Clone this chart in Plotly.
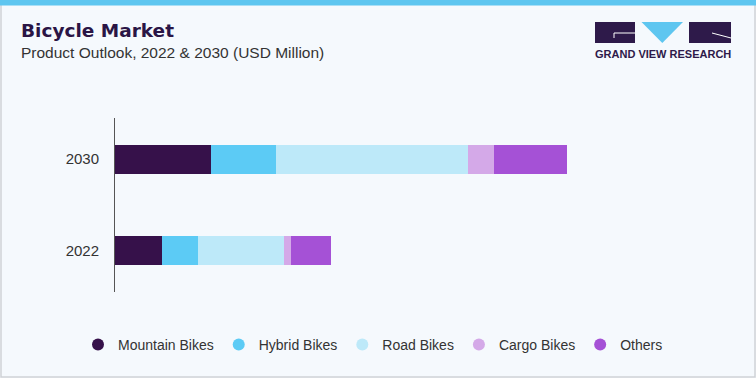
import plotly.graph_objects as go

years = ["2022", "2030"]
segments = ["Mountain Bikes", "Hybrid Bikes", "Road Bikes", "Cargo Bikes", "Others"]
mountain = [13460, 27240]
hybrid = [10080, 18670]
road = [24480, 54560]
cargo = [2160, 7400]
others = [11300, 20690]
series_values = [mountain, hybrid, road, cargo, others]
colors = ["#36114A", "#5CCBF5", "#BDE9F9", "#D4A9E8", "#A551D6"]

fig = go.Figure()
for name, vals, col in zip(segments, series_values, colors):
    fig.add_trace(go.Bar(
        y=years, x=vals, name=name, orientation="h",
        marker=dict(color=col, line=dict(width=0)),
        width=0.32, showlegend=False,
    ))
# circular legend markers
for name, col in zip(segments, colors):
    fig.add_trace(go.Scatter(
        x=[None], y=[None], mode="markers", name=name,
        marker=dict(color=col, size=12, symbol="circle"),
        showlegend=True,
    ))

bg = "#F5F9FD"
fig.update_layout(
    barmode="stack",
    width=756, height=378,
    paper_bgcolor=bg, plot_bgcolor=bg,
    margin=dict(l=115, r=56, t=118, b=86, autoexpand=False),
    font=dict(family="Liberation Sans, Arial, sans-serif", size=14, color="#333333"),
    xaxis=dict(range=[0, 166500], showgrid=False, zeroline=False, showticklabels=False,
               showline=False, fixedrange=True),
    yaxis=dict(range=[-0.45, 1.45], showgrid=False, zeroline=False, showline=True,
               linecolor="#555555", linewidth=1, ticks="", ticklabelstandoff=12,
               tickfont=dict(size=15, color="#333333"), categoryorder="array",
               categoryarray=years, fixedrange=True),
    legend=dict(orientation="h", x=(373 - 115) / 585, xanchor="center", y=-(345 - 292) / 174,
                yanchor="middle", yref="paper", font=dict(size=14, color="#333333"),
                traceorder="normal", itemclick=False, bgcolor="rgba(0,0,0,0)"),
    showlegend=True,
)

def px(xp):
    return (xp - 115) / 585
def py(yp):
    return (292 - yp) / 174

# border and top stripe
fig.add_shape(type="rect", xref="paper", yref="paper",
              x0=px(1), x1=px(755), y0=py(377), y1=py(1),
              line=dict(width=1.5, color="#CFD2D6"), fillcolor="rgba(0,0,0,0)")
fig.add_shape(type="rect", xref="paper", yref="paper",
              x0=px(0), x1=px(756), y0=py(5.5), y1=py(0),
              line=dict(width=0), fillcolor="#5EC6F0")

# Titles
fig.add_annotation(text="<b>Bicycle Market</b>", xref="paper", yref="paper",
                   x=px(19), y=py(30.5), xanchor="left", yanchor="middle",
                   showarrow=False,
                   font=dict(family="DejaVu Sans, sans-serif", size=18.5, color="#2A1545", weight=900))
fig.add_annotation(text="Product Outlook, 2022 & 2030 (USD Million)", xref="paper", yref="paper",
                   x=px(19), y=py(53), xanchor="left", yanchor="middle",
                   showarrow=False,
                   font=dict(family="Liberation Sans, Arial, sans-serif", size=15.5, color="#333333"))

# Logo
dark = "#2E1A4A"
fig.add_shape(type="rect", xref="paper", yref="paper", x0=px(595), x1=px(635), y0=py(43), y1=py(22),
              fillcolor=dark, line=dict(width=0))
fig.add_shape(type="path", xref="paper", yref="paper",
              path=f"M {px(641.5)},{py(22)} L {px(683)},{py(22)} L {px(662.3)},{py(43)} Z",
              fillcolor="#5EC6F0", line=dict(width=0))
fig.add_shape(type="rect", xref="paper", yref="paper", x0=px(689), x1=px(731), y0=py(43), y1=py(22),
              fillcolor=dark, line=dict(width=0))
fig.add_shape(type="line", xref="paper", yref="paper", x0=px(614), x1=px(635), y0=py(33), y1=py(33),
              line=dict(color="white", width=1))
fig.add_shape(type="line", xref="paper", yref="paper", x0=px(614), x1=px(614), y0=py(33), y1=py(38),
              line=dict(color="white", width=1))
fig.add_shape(type="line", xref="paper", yref="paper", x0=px(712), x1=px(731), y0=py(33), y1=py(38),
              line=dict(color="white", width=1))
fig.add_annotation(text="<b>GRAND VIEW RESEARCH</b>", xref="paper", yref="paper",
                   x=px(663), y=py(53.5), xanchor="center", yanchor="middle", showarrow=False,
                   font=dict(family="Liberation Sans, Arial, sans-serif", size=11, color="#2E1A4A"))

fig.write_html("out.html", config={"displayModeBar": False},
               post_script="document.body.style.margin='0px';")
